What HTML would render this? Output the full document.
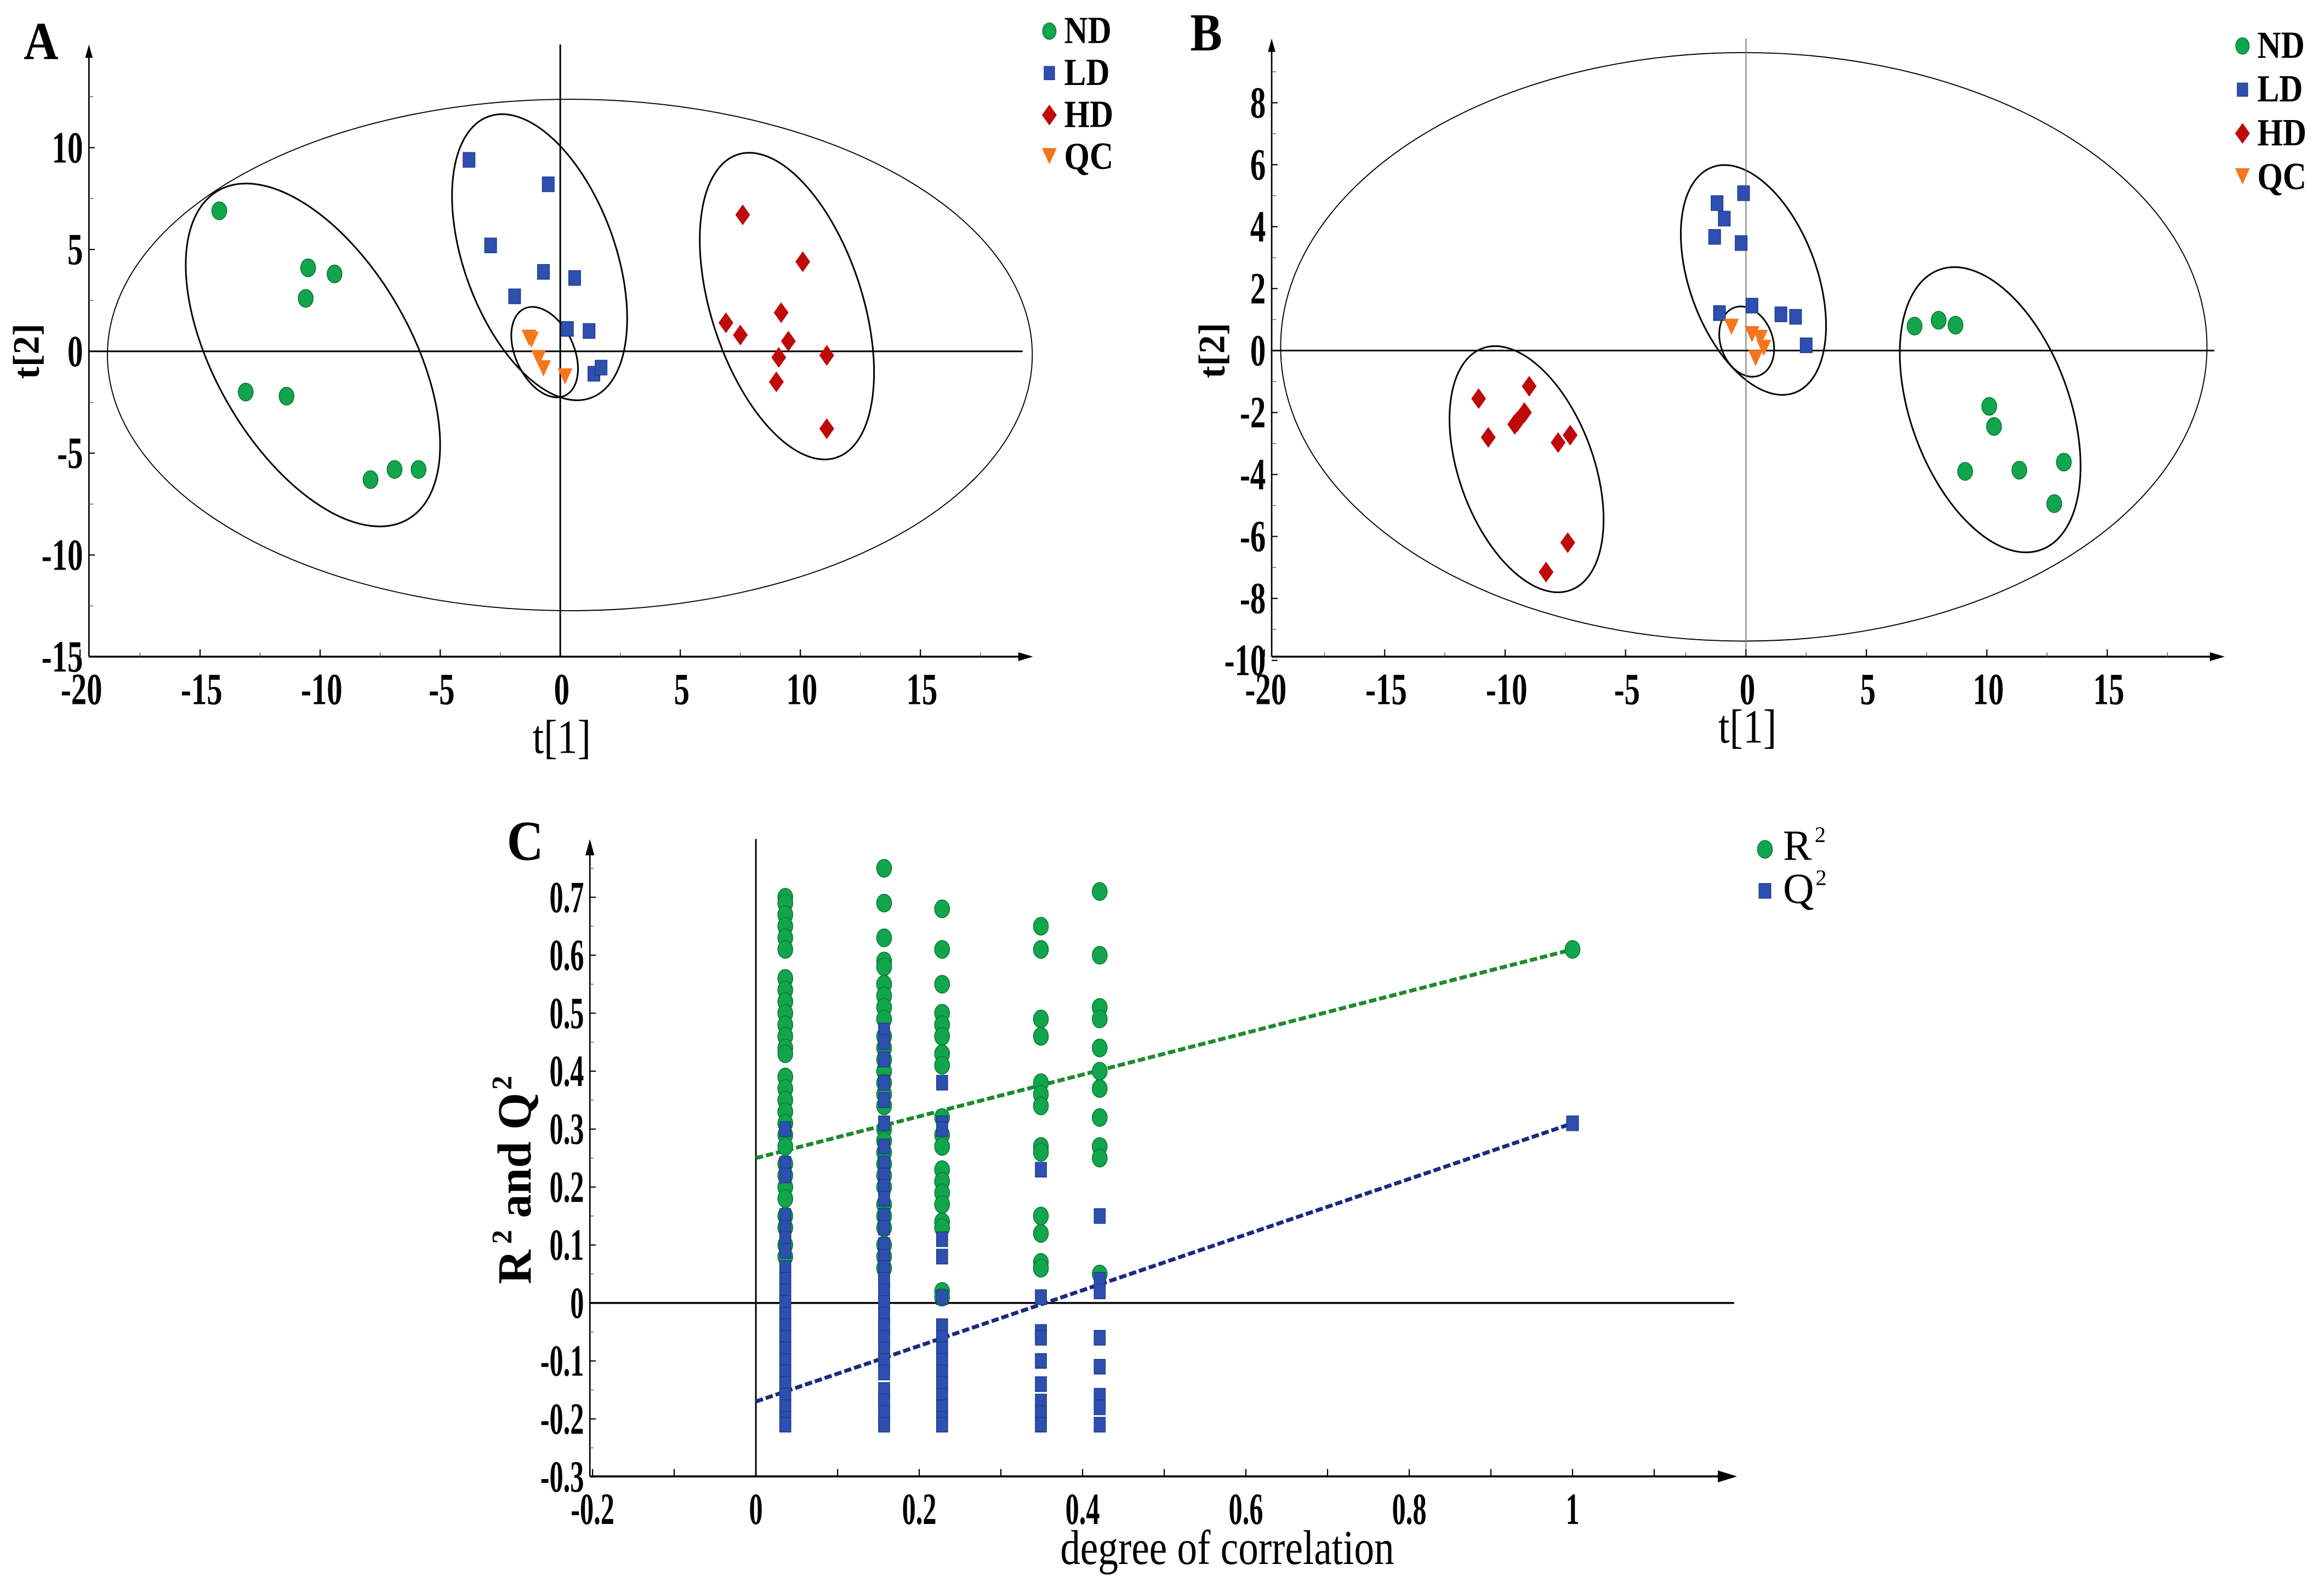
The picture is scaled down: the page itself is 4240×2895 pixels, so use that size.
<!DOCTYPE html>
<html><head><meta charset="utf-8">
<style>
html,body{margin:0;padding:0;background:#fff;}
svg{display:block;}
text{font-family:"Liberation Serif",serif;}
</style></head>
<body>
<svg id="fig" xmlns="http://www.w3.org/2000/svg" width="4240" height="2895" viewBox="0 0 1568 1070.6" preserveAspectRatio="none">
<rect x="0" y="0" width="1568" height="1070.6" fill="#fff"/>
</svg>
<script>
// ---------- Panel A data ----------
const aNDx=[-14.2,-10.5,-9.4,-10.6,-13.1,-11.4,-7.9,-6.9,-5.9];
const aNDy=[6.9,4.1,3.8,2.6,-2.0,-2.2,-6.3,-5.8,-5.8];
const aLDx=[-3.8,-0.5,-2.9,-0.7,0.6,-1.9,0.3,1.2,1.4,1.7];
const aLDy=[9.4,8.2,5.2,3.9,3.6,2.7,1.1,1.0,-1.1,-0.8];
const aHDx=[7.6,10.1,9.2,6.9,7.5,9.5,11.1,9.1,9.0,11.1];
const aHDy=[6.7,4.4,1.9,1.4,0.8,0.5,-0.2,-0.3,-1.5,-3.8];
const aQCx=[-1.3,-1.2,-0.9,-0.7,0.2];
const aQCy=[0.7,0.6,-0.3,-0.8,-1.2];
const aXTicks=[-20,-15,-10,-5,0,5,10,15];
const aYTicks=[10,5,0,-5,-10,-15];
const aEllCx=[0.4,-10.3,-0.86,-0.65,9.44];
const aEllCy=[-0.18,-0.18,4.62,-0.04,2.22];
// ---------- Panel B data ----------
const bNDx=[7.0,8.0,8.7,10.1,10.3,9.1,11.35,13.2,12.8];
const bNDy=[0.79,0.98,0.82,-1.8,-2.45,-3.9,-3.86,-3.6,-4.94];
const bLDx=[-1.2,-0.9,-1.3,-0.1,-0.2,-1.1,0.25,1.45,2.06,2.5];
const bLDy=[4.76,4.26,3.67,5.08,3.47,1.21,1.45,1.17,1.09,0.17];
const bHDx=[-11.1,-9.0,-10.7,-9.5,-9.2,-7.8,-7.3,-7.4,-8.3,-9.6];
const bHDy=[-1.55,-1.15,-2.8,-2.3,-2.0,-2.97,-2.73,-6.2,-7.15,-2.38];
const bQCx=[-0.6,0.25,0.6,0.74,0.4];
const bQCy=[0.79,0.55,0.43,0.11,-0.22];
const bXTicks=[-20,-15,-10,-5,0,5,10,15];
const bYTicks=[8,6,4,2,0,-2,-4,-6,-8,-10];
const bEllCx=[-0.09,-9.11,0.31,0.03,10.14];
const bEllCy=[0.12,-3.83,2.28,0.29,-1.91];
// ---------- Panel C data ----------
const cColumns=[0.036,0.157,0.228,0.349,0.421];
const cR2col1=[0.70,0.69,0.67,0.65,0.63,0.61,0.56,0.54,0.52,0.50,0.48,0.46,0.44,0.43,0.39,0.37,0.35,0.33,0.31,0.29,0.27,0.24,0.22,0.20,0.18,0.15,0.13,0.10,0.08];
const cR2col2=[0.75,0.69,0.63,0.59,0.58,0.55,0.53,0.51,0.49,0.46,0.44,0.42,0.40,0.38,0.36,0.34,0.30,0.28,0.26,0.24,0.22,0.20,0.17,0.15,0.13,0.10,0.08,0.06];
const cR2col3=[0.68,0.61,0.55,0.50,0.48,0.46,0.43,0.41,0.32,0.29,0.27,0.23,0.21,0.19,0.17,0.14,0.13,0.02,0.01];
const cR2col4=[0.65,0.61,0.49,0.46,0.38,0.36,0.34,0.27,0.26,0.15,0.12,0.07,0.06];
const cR2col5=[0.71,0.60,0.51,0.49,0.44,0.40,0.37,0.32,0.27,0.25,0.05];
const cQ2col1=[0.30,0.24,0.22,0.15,0.13,0.11,0.09,0.06,0.04,0.02,0.00,-0.02,-0.04,-0.06,-0.08,-0.10,-0.12,-0.14,-0.16,-0.18,-0.20,-0.21];
const cQ2col2=[0.47,0.45,0.42,0.38,0.35,0.31,0.27,0.24,0.22,0.20,0.18,0.15,0.13,0.10,0.08,0.06,0.04,0.02,0.00,-0.02,-0.04,-0.06,-0.08,-0.10,-0.12,-0.15,-0.17,-0.19,-0.21];
const cQ2col3=[0.38,0.31,0.30,0.11,0.08,0.01,-0.04,-0.06,-0.08,-0.10,-0.12,-0.14,-0.16,-0.18,-0.20,-0.21];
const cQ2col4=[0.23,0.01,-0.05,-0.06,-0.10,-0.14,-0.17,-0.19,-0.21];
const cQ2col5=[0.15,0.04,0.02,-0.06,-0.11,-0.16,-0.18,-0.21];
const cOrigX=1.0, cOrigR2=0.61, cOrigQ2=0.31;
const cR2Intercept=0.25, cQ2Intercept=-0.17;
const cXTicks=[-0.2,0,0.2,0.4,0.6,0.8,1];
const cYTicks=[0.7,0.6,0.5,0.4,0.3,0.2,0.1,0,-0.1,-0.2,-0.3];

const NS='http://www.w3.org/2000/svg';
const svg=document.getElementById('fig');
function mk(tag,attrs,parent){const e=document.createElementNS(NS,tag);for(const k in attrs)e.setAttribute(k,attrs[k]);(parent||svg).appendChild(e);return e;}
function grp(parent){return mk('g',{},parent);}
const GREEN='#11a64c',BLUE='#2d4fb0',RED='#bf0a0a',ORANGE='#f5761a';

function circle(g,x,y,rx,ry){return mk('ellipse',{cx:x,cy:y,rx:rx,ry:ry,fill:GREEN,stroke:'#0d7a38','stroke-width':0.6},g);}
function square(g,x,y,w,h){return mk('rect',{x:x-w/2,y:y-h/2,width:w,height:h,fill:BLUE,stroke:'#1e3a86','stroke-width':0.5},g);}
function diamond(g,x,y){return mk('polygon',{points:`${x},${y-7} ${x+5},${y} ${x},${y+7} ${x-5},${y}`,fill:RED},g);}
function tri(g,x,y){return mk('polygon',{points:`${x-5},${y-5} ${x+5},${y-5} ${x},${y+6}`,fill:ORANGE},g);}
function label(g,x,y,str,size,anchor,bold,sx){
  const t=mk('text',{x:0,y:0,'font-size':size,'text-anchor':anchor||'middle','font-weight':bold?'bold':'normal',fill:'#000',transform:`translate(${x},${y}) scale(${sx||1},1)`},g);
  t.textContent=str;return t;
}

function scatterPanel(P){
  const root=grp();
  
  
  const X=v=>P.x0+v*P.xs, Y=v=>P.y0-v*P.ys;
  const eg=grp(root);
  
  
  P.ell.forEach((e,i)=>{
    const cx=X(P.ecx[i]),cy=Y(P.ecy[i]);
    const el=mk('ellipse',{cx:0,cy:0,rx:e[0],ry:e[1],fill:'none',stroke:'#000','stroke-width':i==0?0.7:1.1,transform:`translate(${cx},${cy}) rotate(${e[2]})`},eg);
    
    
  });
  const zl=mk('line',{x1:X(0),y1:P.axTop,x2:X(0),y2:P.axY,stroke:P.zcol,'stroke-width':P.zw},root);
  
  
  const zh=mk('line',{x1:P.axX,y1:Y(0),x2:P.axRight,y2:Y(0),stroke:'#000','stroke-width':1.1},root);
  
  
  const ax=grp(root);
  
  
  mk('line',{x1:P.axX,y1:P.axY,x2:P.axRight,y2:P.axY,stroke:'#000','stroke-width':1.3},ax);
  mk('line',{x1:P.axX,y1:P.axY,x2:P.axX,y2:P.axTop+6,stroke:'#000','stroke-width':1.0},ax);
  mk('polygon',{points:`${P.axRight+7},${P.axY} ${P.axRight-3},${P.axY-3} ${P.axRight-3},${P.axY+3}`,fill:'#000'},ax);
  mk('polygon',{points:`${P.axX},${P.axTop} ${P.axX-2.5},${P.axTop+9} ${P.axX+2.5},${P.axTop+9}`,fill:'#000'},ax);
  const xt=grp(ax);
  
  
  for(let v=P.xTicks[0];X(v)<P.axRight-3;v+=P.xTicks[1]-P.xTicks[0]){
    mk('line',{x1:X(v),y1:P.axY,x2:X(v),y2:P.axY-5,stroke:'#000','stroke-width':0.8},xt);
    mk('line',{x1:X(v+P.xMinor),y1:P.axY,x2:X(v+P.xMinor),y2:P.axY-3,stroke:'#555','stroke-width':0.5},xt);
  }
  P.xTicks.forEach(v=>{const t=label(xt,X(v)+1,P.axY+32,String(v),30,'middle',true,0.7);
    });
  const yt=grp(ax);
  
  
  P.yTicks.forEach(v=>{
    mk('line',{x1:P.axX,y1:Y(v),x2:P.axX+4,y2:Y(v),stroke:'#000','stroke-width':0.8},yt);
    mk('line',{x1:P.axX,y1:Y(v+P.yMinor),x2:P.axX+3,y2:Y(v+P.yMinor),stroke:'#555','stroke-width':0.5},yt);
    const t=label(yt,P.axX-4,Y(v)+10,String(v),30,'end',true,0.7);
    
  });
  const xtit=label(root,X(0)+1,P.xTitleY,'t[1]',32,'middle',false,0.85);
  
  
  const ytit=mk('text',{x:0,y:0,'font-size':25,'font-weight':'bold','text-anchor':'middle',transform:`translate(${P.yTitleX},${Y(0)}) rotate(-90)`},root);
  ytit.textContent='t[2]';
  
  
  const pl=label(root,P.panelX,P.panelY,P.letter,36,'start',true,0.9);
  
  
  const series=[['nd-points',P.ND,(g,x,y)=>circle(g,x,y,5,6)],['ld-points',P.LD,(g,x,y)=>square(g,x,y,8,10)],['hd-points',P.HD,diamond],['qc-points',P.QC,tri]];
  series.forEach(s=>{
    const g=grp(root);
    
    
    s[1][0].forEach((xv,i)=>{
      const m=s[2](g,X(xv),Y(s[1][1][i]));
      
      
    });
  });
  const lg=grp(root);
  
  
  const names=['ND','LD','HD','QC'];
  names.forEach((n,i)=>{
    const y=P.legY+i*P.legDy;const mx=P.legX;
    const e=grp(lg);
    
    
    if(i==0)circle(e,mx,y-8,4.5,5.5);else if(i==1)square(e,mx,y-8,7,9);else if(i==2)diamond(e,mx,y-8);else tri(e,mx,y-9);
    label(e,mx+10,y,n,26,'start',true,0.85);
  });
}

scatterPanel({name:'panel-a-pca-score-plot',letter:'A',panelX:16,panelY:40,
  x0:378,xs:16.2,y0:237,ys:13.74,axX:60,axY:443,axTop:30,axRight:690,zcol:'#000',zw:1.1,
  xTicks:aXTicks,yTicks:aYTicks,xMinor:2.5,yMinor:2.5,xTitleY:508,yTitleX:26,
  ell:[[312,172.5,0],[128,66,60],[101,51,70],[32.4,19.7,65],[107.5,51,72]],ecx:aEllCx,ecy:aEllCy,
  ND:[aNDx,aNDy],LD:[aLDx,aLDy],HD:[aHDx,aHDy],QC:[aQCx,aQCy],legX:708,legY:29,legDy:28.3});
scatterPanel({name:'panel-b-pca-score-plot',letter:'B',panelX:803,panelY:34,
  x0:1178,xs:16.25,y0:236.5,ys:20.9,axX:858,axY:443,axTop:26,axRight:1494,zcol:'#777',zw:0.7,
  xTicks:bXTicks,yTicks:bYTicks,xMinor:2.5,yMinor:1,xTitleY:501,yTitleX:826,
  ell:[[312.5,198.5,0],[86.8,45.4,70],[81,43,70],[24.4,17.6,70],[100.5,53.6,70]],ecx:bEllCx,ecy:bEllCy,
  ND:[bNDx,bNDy],LD:[bLDx,bLDy],HD:[bHDx,bHDy],QC:[bQCx,bQCy],legX:1513,legY:39,legDy:29.5});

// ---------- Panel C ----------
(function(){
  const root=grp();
  
  
  const X=v=>510+v*551, Y=v=>879-v*391;
  const axX=398,axY=996,axTop=566,axRight=1162;
  const zl=mk('line',{x1:X(0),y1:axTop,x2:X(0),y2:axY,stroke:'#000','stroke-width':1.1},root);
  
  
  const zh=mk('line',{x1:axX,y1:Y(0),x2:1170,y2:Y(0),stroke:'#000','stroke-width':1.3},root);
  
  
  const ax=grp(root);
  
  
  mk('line',{x1:axX,y1:axY,x2:axRight,y2:axY,stroke:'#000','stroke-width':1.4},ax);
  mk('line',{x1:axX,y1:axY,x2:axX,y2:axTop+6,stroke:'#000','stroke-width':1.0},ax);
  mk('polygon',{points:`${axRight+10},${axY} ${axRight-3},${axY-4} ${axRight-3},${axY+4}`,fill:'#000'},ax);
  mk('polygon',{points:`${axX},${axTop} ${axX-3},${axTop+11} ${axX+3},${axTop+11}`,fill:'#000'},ax);
  for(let v=-0.2;X(v)<axRight-5;v+=0.1){
    mk('line',{x1:X(v),y1:axY,x2:X(v),y2:axY-5,stroke:'#000','stroke-width':0.8},ax);
  }
  cXTicks.forEach(v=>{const t=label(ax,X(v),axY+32,String(v),30,'middle',true,0.62);
    });
  cYTicks.forEach(v=>{
    mk('line',{x1:axX,y1:Y(v),x2:axX+4,y2:Y(v),stroke:'#000','stroke-width':0.8},ax);
    mk('line',{x1:axX,y1:Y(v+0.05),x2:axX+2.5,y2:Y(v+0.05),stroke:'#555','stroke-width':0.5},ax);
    const t=label(ax,axX-4,Y(v)+10,String(v),30,'end',true,0.62);
    
  });
  const xt=label(root,828,1055,'degree of correlation',33,'middle',false,0.82);
  
  
  const yt=mk('text',{x:0,y:0,'font-size':32,'font-weight':'bold','text-anchor':'middle',transform:`translate(358,796) rotate(-90)`},root);
  yt.innerHTML='R<tspan font-size="19" dy="-13" dx="4">2</tspan><tspan dy="13"> and Q</tspan><tspan font-size="19" dy="-13" dx="2">2</tspan>';
  
  
  const pl=label(root,342,580,'C',38,'start',true,0.9);
  
  
  const lr=mk('line',{x1:X(0),y1:Y(cR2Intercept),x2:X(cOrigX),y2:Y(cOrigR2),stroke:'#1d8a2e','stroke-width':2.6,'stroke-dasharray':'5,2'},root);
  
  
  const lq=mk('line',{x1:X(0),y1:Y(cQ2Intercept),x2:X(cOrigX),y2:Y(cOrigQ2),stroke:'#1a2a80','stroke-width':2.6,'stroke-dasharray':'5,2'},root);
  
  
  const r2cols=[cR2col1,cR2col2,cR2col3,cR2col4,cR2col5];
  const q2cols=[cQ2col1,cQ2col2,cQ2col3,cQ2col4,cQ2col5];
  const gR=grp(root);
  
  
  const gQ=grp(root);
  
  
  r2cols.forEach((col,ci)=>col.forEach(v=>{
    const m=circle(gR,X(cColumns[ci]),Y(v),5,6);
    
    
  }));
  q2cols.forEach((col,ci)=>col.forEach(v=>{
    const m=square(gQ,X(cColumns[ci]),Y(v),7.5,10);
    
    
  }));
  const o1=circle(root,X(cOrigX),Y(cOrigR2),5,6);
  
  
  const o2=square(root,X(cOrigX),Y(cOrigQ2),8,10);
  
  
  const lg=grp(root);
  
  
  const e1=grp(lg);
  
  
  circle(e1,1190.8,573,5,6);
  const t1=mk('text',{x:1203,y:580,'font-size':29},e1);
  t1.innerHTML='R<tspan font-size="15" dy="-12" dx="2">2</tspan>';
  const e2=grp(lg);
  
  
  square(e2,1190.8,601,8,10);
  const t2=mk('text',{x:1203,y:609,'font-size':29},e2);
  t2.innerHTML='Q<tspan font-size="15" dy="-12" dx="1">2</tspan>';
})();
</script>
</body></html>
